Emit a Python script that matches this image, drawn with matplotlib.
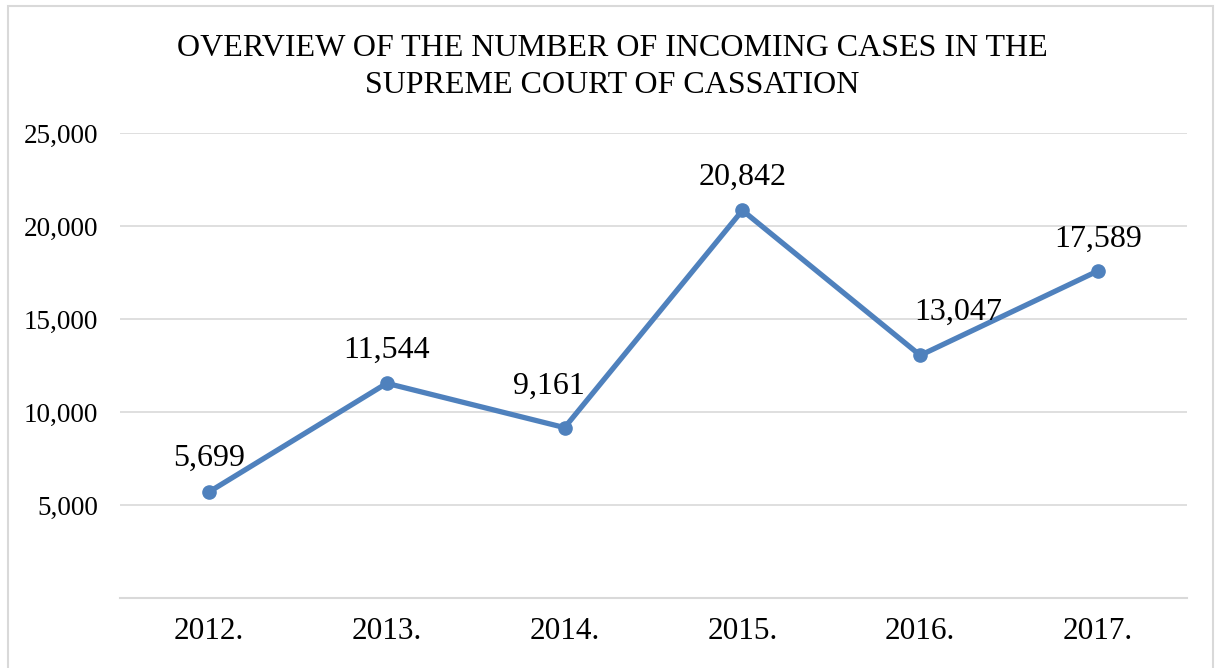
import matplotlib.pyplot as plt
from matplotlib.patches import Rectangle

years = ["2012.", "2013.", "2014.", "2015.", "2016.", "2017."]
cases = [5699, 11544, 9161, 20842, 13047, 17589]
# label offsets (points) - excel nudged a couple of them
label_dx = [0, 0, -11, 0, 27, 0]
label_dy = [24, 24, 30, 24, 31, 23]

plt.rcParams['font.family'] = ['Liberation Serif', 'DejaVu Serif']

fig = plt.figure(figsize=(12.15, 6.68), dpi=100)
ax = fig.add_axes([120/1215, 1 - 598/668, (1187 - 120)/1215, (598 - 133)/668])

x = list(range(len(years)))
ax.plot(x, cases, color="#4F81BD", lw=3.8, marker="o", ms=9.5,
        solid_capstyle="round", zorder=3)

for i, v in enumerate(cases):
    ax.annotate(f"{v:,}", (x[i], v), xytext=(label_dx[i], label_dy[i]),
                textcoords="offset points", ha="center", va="center",
                fontsize=23, color="black")

ax.set_xlim(-0.5, len(years) - 0.5)
ax.set_ylim(0, 25000)
ax.set_yticks([5000, 10000, 15000, 20000, 25000])
ax.set_yticklabels([f"{t:,}" for t in [5000, 10000, 15000, 20000, 25000]])
ax.set_xticks(x)
ax.set_xticklabels(years)
ax.grid(axis="y", color="#D9D9D9", lw=1.2)
ax.set_axisbelow(True)
for s in ["top", "left", "right"]:
    ax.spines[s].set_visible(False)
ax.spines["bottom"].set_color("#D9D9D9")
ax.spines["bottom"].set_linewidth(1.5)
ax.tick_params(axis="y", length=0, pad=16, labelsize=19.5)
ax.tick_params(axis="x", length=0, pad=14, labelsize=22.5)

fig.text(612/1215, 1 - 67/668,
         "OVERVIEW OF THE NUMBER OF INCOMING CASES IN THE\nSUPREME COURT OF CASSATION",
         ha="center", va="center", fontsize=23, linespacing=1.38)

fig.patches.append(Rectangle((8/1215, -0.02), (1213 - 8)/1215, 1 - 6/668 + 0.02,
                             transform=fig.transFigure, fill=False,
                             edgecolor="#D9D9D9", lw=1.5))

fig.savefig("out.png", dpi=100)
